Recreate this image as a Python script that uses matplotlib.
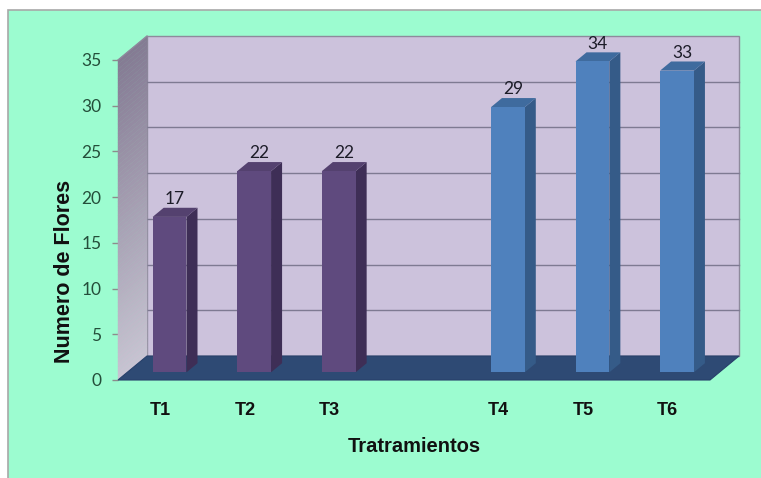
import numpy as np
import matplotlib
matplotlib.use("Agg")
import matplotlib.pyplot as plt
from matplotlib.patches import Polygon, Rectangle

# ---- Data ----
tratamientos = ["T1", "T2", "T3", "T4", "T5", "T6"]
flores = [17, 22, 22, 29, 34, 33]
posiciones = [0, 1, 2, 4, 5, 6]   # slot 3 left empty between the two groups
grupo = ["a", "a", "a", "b", "b", "b"]

# ---- Colours ----
bg_green = "#9cfcd0"
wall_color = "#ccc2dc"
floor_color = "#2e4a74"
bar_colors = {
    "a": ("#5f4a7e", "#3e2e56", "#54416f"),   # front, side, top
    "b": ("#4f81bd", "#355b88", "#3f6b9e"),
}

# 3D look: depth offsets in data units
DX = 0.343      # horizontal shift of the back plane (category units)
DY = 2.625      # vertical shift of the back plane (value units)
f0, f1 = 0.32, 0.70   # bar depth range (fraction of full depth)
w = 0.40        # bar width
ymax = 35
nslots = 7

fig = plt.figure(figsize=(7.61, 4.78), dpi=100)
fig.patch.set_facecolor("white")
fig.patches.append(Rectangle((8 / 761, -0.05), 1.1, 1 - 10 / 478 + 0.05,
                             transform=fig.transFigure, facecolor=bg_green,
                             edgecolor="#a8a8a8", linewidth=1.2, zorder=-10))

ax = fig.add_axes([118 / 761, (478 - 380) / 478, 592 / 761, 320 / 478])
ax.set_xlim(0, nslots)
ax.set_ylim(0, ymax)
ax.patch.set_visible(False)
for s in ax.spines.values():
    s.set_visible(False)

# back wall
ax.add_patch(Polygon([(DX, DY), (nslots + DX, DY), (nslots + DX, ymax + DY), (DX, ymax + DY)],
                     closed=True, facecolor=wall_color, edgecolor="#8e8a9c",
                     linewidth=1, clip_on=False, zorder=1))
for v in range(5, ymax, 5):
    ax.plot([DX, nslots + DX], [v + DY, v + DY], color="#7e7a92", linewidth=1,
            clip_on=False, zorder=2)

# left wall: slanted strips shading from dark (top) to light (bottom)
top_c = np.array([0x84, 0x7a, 0x93]) / 255
bot_c = np.array([0xc8, 0xc4, 0xd2]) / 255
edges = np.linspace(0, ymax, 71)
for a, b in zip(edges[:-1], edges[1:]):
    t = (a + b) / 2 / ymax
    c = bot_c * (1 - t) + top_c * t
    ax.add_patch(Polygon([(0, a), (DX, a + DY), (DX, b + DY), (0, b)], closed=True,
                         facecolor=c, edgecolor=c, linewidth=0.3,
                         clip_on=False, zorder=3))
ax.plot([0, DX], [ymax, ymax + DY], color="#8e8a9c", linewidth=1, clip_on=False, zorder=3)

# floor
ax.add_patch(Polygon([(0, 0), (nslots, 0), (nslots + DX, DY), (DX, DY)], closed=True,
                     facecolor=floor_color, edgecolor="#27406a", linewidth=0.8,
                     clip_on=False, zorder=4))

# bars
dd = f1 - f0
for pos, val, g in zip(posiciones, flores, grupo):
    front, side, top = bar_colors[g]
    xl = pos + 0.5 - w / 2 + f0 * DX
    xr = xl + w
    b0 = f0 * DY
    yt = b0 + val
    ax.add_patch(Polygon([(xr, b0), (xr + dd * DX, b0 + dd * DY),
                          (xr + dd * DX, yt + dd * DY), (xr, yt)], closed=True,
                         facecolor=side, edgecolor="none", clip_on=False, zorder=5))
    ax.add_patch(Polygon([(xl, yt), (xr, yt), (xr + dd * DX, yt + dd * DY),
                          (xl + dd * DX, yt + dd * DY)], closed=True,
                         facecolor=top, edgecolor="none", clip_on=False, zorder=5))
    ax.bar(xl, val, width=w, bottom=b0, align="edge", color=front,
           clip_on=False, zorder=6)
    ax.annotate(str(val), (xl + w / 2 + dd / 2 * DX, yt + dd * DY),
                xytext=(0, 0.5), textcoords="offset points", ha="center", va="bottom",
                fontsize=12.5, family="Lato", color="#1c1c28", zorder=7,
                annotation_clip=False)

# axes ticks and labels
ax.set_yticks(range(0, ymax + 1, 5))
ax.tick_params(axis="y", length=4, width=1, color="#8c8c8c", pad=8,
               labelsize=12.5, labelcolor="#244e3a")
for t in ax.get_yticklabels():
    t.set_family("Lato")
ax.set_xticks([p + 0.5 for p in posiciones])
ax.set_xticklabels(tratamientos, fontsize=13, fontweight="bold", family="Liberation Sans")
ax.tick_params(axis="x", length=0, pad=16, labelcolor="#111111")

ax.set_xlabel("Tratramientos", fontsize=14.5, fontweight="bold", family="Liberation Sans",
              color="#111111", va="center")
ax.xaxis.set_label_coords(0.5, -0.209)
ax.set_ylabel("Numero de Flores", fontsize=15.5, fontweight="bold", family="Liberation Sans",
              color="#111111", va="center")
ax.yaxis.set_label_coords(-0.091, 0.34)

fig.savefig("out.png", dpi=100, facecolor=fig.get_facecolor())
